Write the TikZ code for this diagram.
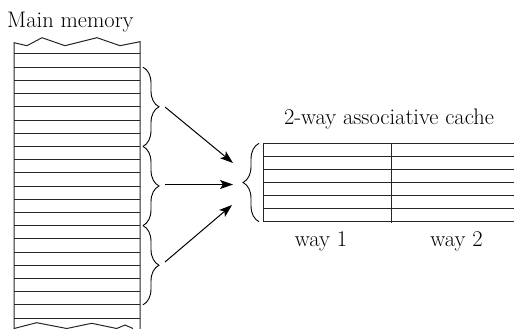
\documentclass[tikz,border=0pt]{standalone}
\usetikzlibrary{decorations.pathreplacing,arrows.meta}
\begin{document}
\begin{tikzpicture}[x=1pt,y=-1pt,
  rule/.style={line width=1pt,black!85},
  bracestyle/.style={line width=0.9pt,decorate,decoration={brace,amplitude=16pt}},
  arrowstyle/.style={line width=1pt,-{Stealth[length=13pt,width=9pt,inset=3pt]}},
  lbl/.style={font=\fontsize{22.5}{27}\selectfont,inner sep=0pt,anchor=base}]
\useasboundingbox (0,0) rectangle (514,329);
% main memory column
\draw[rule] (14,329) -- (14,42.7) -- (27,45.7) -- (42,37.7) -- (65,45.7) -- (97,37.7) -- (120,45.7) -- (140,41.7) -- (140,329);
\foreach \i in {0,...,20}{
  \draw[rule] (14,54+13.2*\i) -- (140,54+13.2*\i);
}
\draw[rule] (14,328.5) -- (36.7,322.7) -- (66.7,328.5) -- (91.7,323.3) -- (116.7,328.5) -- (125,325) -- (133,328.5);
\node[lbl,anchor=base west] (mm) at (7,28) {Main memory};
% braces on memory
\draw[bracestyle] (143,67.2) -- (143,146.4);
\draw[bracestyle] (143,146.4) -- (143,225.6);
\draw[bracestyle] (143,225.6) -- (143,304.8);
\coordinate (s1) at (165,107);
\coordinate (s2) at (165,184.5);
\coordinate (s3) at (165,262);
\coordinate (t1) at (233,163);
\coordinate (t2) at (233,184.5);
\coordinate (t3) at (232,205);
\draw[arrowstyle] (s1) -- (t1);
\draw[arrowstyle] (s2) -- (t2);
\draw[arrowstyle] (s3) -- (t3);
% cache
\foreach \i in {0,...,6}{
  \draw[rule] (263,143.3+13.07*\i) -- (514,143.3+13.07*\i);
}
\draw[rule] (263,143.3) -- (263,221.7);
\draw[rule] (391,143.3) -- (391,223);
\draw[bracestyle] (259,221.7) -- (259,143.3);
\node[lbl] (title) at (389,124) {2-way associative cache};
\node[lbl] (w1) at (321,246.5) {way 1};
\node[lbl] (w2) at (456.5,246.5) {way 2};
\end{tikzpicture}
\end{document}
